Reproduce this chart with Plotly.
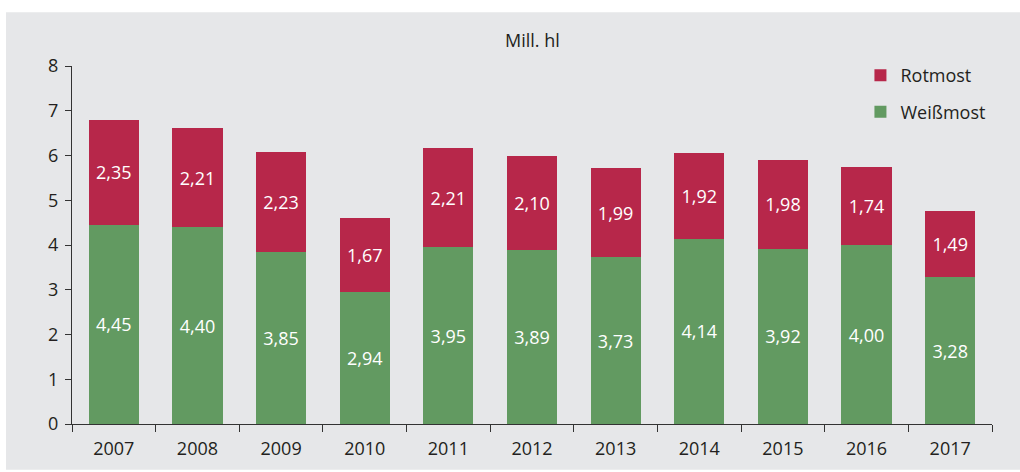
import plotly.graph_objects as go

years = ["2007", "2008", "2009", "2010", "2011", "2012", "2013", "2014", "2015", "2016", "2017"]
weissmost = [4.45, 4.40, 3.85, 2.94, 3.95, 3.89, 3.73, 4.14, 3.92, 4.00, 3.28]
rotmost = [2.35, 2.21, 2.23, 1.67, 2.21, 2.10, 1.99, 1.92, 1.98, 1.74, 1.49]

GREEN = "#629a61"
RED = "#b7274a"
BG = "#e6e7e9"
FONT = "Open Sans"
FS = 18

fig = go.Figure()
fig.add_trace(go.Bar(
    x=years, y=weissmost, name="Weißmost", marker_color=GREEN,
    marker_line_width=0,
    texttemplate="%{y:.2f}", textposition="inside", insidetextanchor="middle",
    textfont=dict(color="white", size=FS, family=FONT), legendgroup="w",
    legendrank=2,
))
fig.add_trace(go.Bar(
    x=years, y=rotmost, name="Rotmost", marker_color=RED,
    marker_line_width=0,
    texttemplate="%{y:.2f}", textposition="inside", insidetextanchor="middle",
    textfont=dict(color="white", size=FS, family=FONT), legendgroup="r",
    legendrank=1,
))

fig.update_layout(
    barmode="stack",
    bargap=0.4,
    width=1020, height=472,
    margin=dict(l=72, r=28, t=66, b=46),
    paper_bgcolor="white",
    plot_bgcolor=BG,
    separators=",.",
    font=dict(family=FONT, size=FS, color="#231f20"),
    legend=dict(
        x=0.857, y=1.025, xanchor="left", yanchor="top",
        traceorder="grouped", tracegroupgap=10,
        bgcolor="rgba(0,0,0,0)", font=dict(size=FS, family=FONT),
        itemwidth=30,
    ),
    xaxis=dict(
        showline=True, linecolor="#333333", linewidth=1,
        ticks="outside", tickson="boundaries", ticklen=7, tickcolor="#333333",
        showgrid=False, ticklabelstandoff=8,
    ),
    yaxis=dict(
        range=[0, 8], dtick=1, showline=True, linecolor="#333333", linewidth=1,
        ticks="outside", ticklen=6, tickcolor="#333333", showgrid=False,
        zeroline=False, ticklabelstandoff=3,
    ),
    shapes=[dict(
        type="rect", xref="paper", yref="paper",
        x0=(6 - 72) / 920, x1=(1020 - 72) / 920,
        y0=-46 / 360, y1=(426 - 12) / 360,
        fillcolor=BG, line=dict(width=0), layer="below",
    )],
    annotations=[dict(
        text="Mill. hl", xref="paper", yref="paper", x=0.5, y=(426 - 40) / 360,
        xanchor="center", yanchor="middle", showarrow=False,
        font=dict(size=FS, family=FONT),
    )],
)

fig.write_html("out.html", config={"displayModeBar": False},
               post_script="document.body.style.margin='0';")
